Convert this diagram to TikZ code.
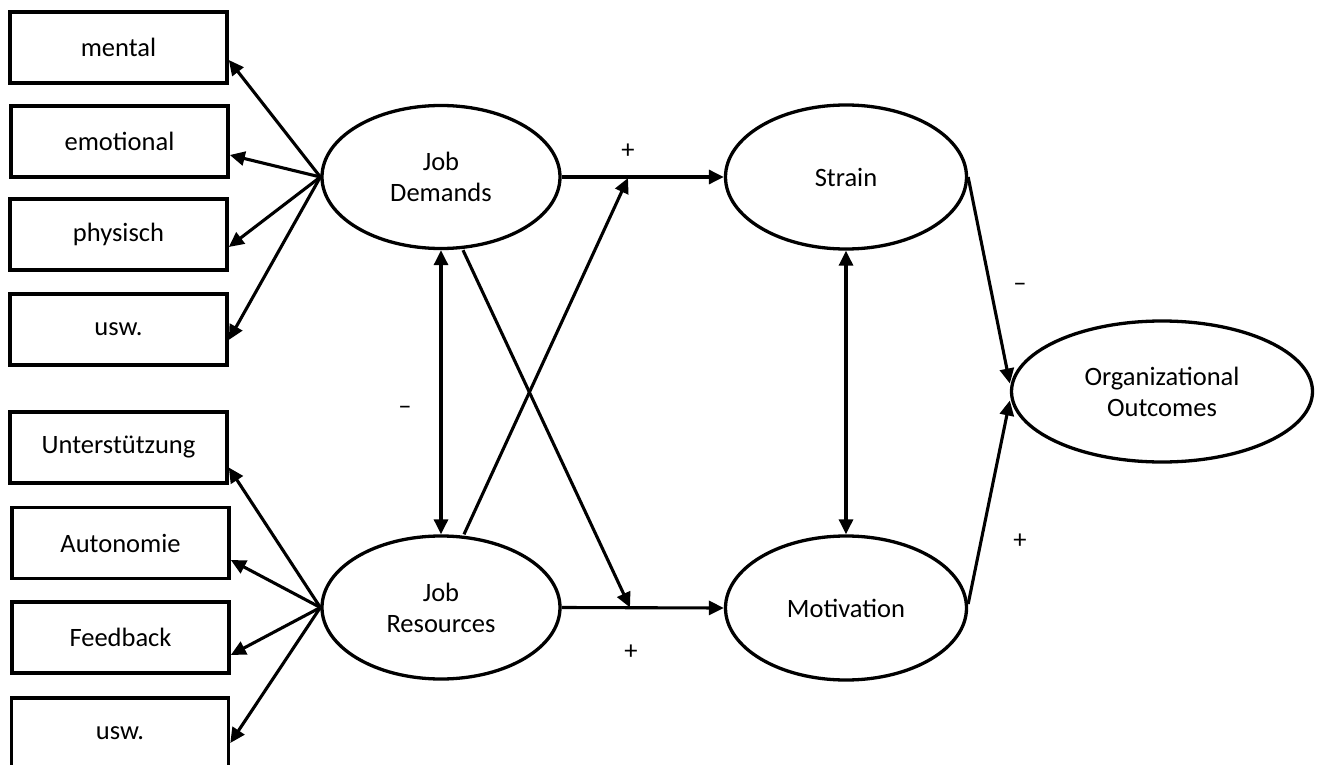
\documentclass[tikz,border=0pt]{standalone}
\usepackage{fontspec}
\setmainfont{Carlito}
\usetikzlibrary{shapes.geometric,arrows.meta}
\begin{document}
\begin{tikzpicture}[x=1pt,y=-1pt,
  box/.style={draw,line width=3.6pt,minimum width=217pt,minimum height=71pt,inner sep=0pt},
  oval/.style={draw,ellipse,line width=3.3pt,minimum width=238pt,minimum height=143pt,inner sep=0pt,align=center},
  conn/.style={line width=3.1pt,-{Triangle[length=15pt,width=14pt]}},
  both/.style={line width=3.1pt,{Triangle[length=15pt,width=14pt]}-{Triangle[length=15pt,width=14pt]}},
  sign/.style={inner sep=0pt},
  font=\fontsize{26.5}{31}\selectfont]

\useasboundingbox (0,0) rectangle (1318,765);

% left boxes
\node[box] (mental) at (118.5,47.5) {mental};
\node[box] (emo) at (119.5,141.5) {emotional};
\node[box] (phys) at (118.5,234.5) {physisch};
\node[box] (usw1) at (118.5,329.5) {usw.};
\node[box] (unter) at (118.5,447.5) {Unterstützung};
\node[box] (auto) at (120.5,543) {Autonomie};
\node[box] (feed) at (120.5,637.5) {Feedback};
\node[box] (usw2) at (120,733.5) {usw.};

% ellipses
\node[oval] (JD) at (441,177) {Job\\Demands};
\node[oval] (JR) at (441,607.5) {Job\\Resources};
\node[oval,minimum width=241pt,minimum height=144pt] (ST) at (846,177) {Strain};
\node[oval,minimum width=241pt,minimum height=144pt] (MO) at (846,608) {Motivation};
\node[oval,minimum width=301pt,minimum height=141pt] (OO) at (1162,391.5) {Organizational\\Outcomes};

% left fan arrows
\draw[conn] (JD.west) -- ([yshift=-12.5pt]mental.east);
\draw[conn] (JD.west) -- ([yshift=-13.5pt]emo.east);
\draw[conn] (JD.west) -- ([yshift=-12.5pt]phys.east);
\draw[conn] (JD.west) -- ([yshift=-10.5pt]usw1.east);
\draw[conn] (JR.west) -- ([yshift=-20pt]unter.east);
\draw[conn] (JR.west) -- ([yshift=-17pt]auto.east);
\draw[conn] (JR.west) -- ([yshift=-17.5pt]feed.east);
\draw[conn] (JR.west) -- ([yshift=-9.5pt]usw2.east);

% horizontal paths
\draw[conn] (JD.east) -- (ST.west);
\draw[conn] (JR.east) -- (MO.west);

% crossing arrows
\coordinate (p1) at (628,178);
\coordinate (p2) at (630,607.5);
\draw[conn] ([xshift=23pt]JR.north) -- (p1);
\draw[conn] ([xshift=22pt]JD.south) -- (p2);

% vertical double arrows
\draw[both] (JD.south) -- (JR.north);
\draw[both] (ST.south) -- (MO.north);

% to outcomes
\draw[conn] (ST.east) -- ([yshift=8pt]OO.west);
\draw[conn] ([yshift=4pt]MO.east) -- ([yshift=-9pt]OO.west);

% signs
\node[sign] (s1) at (628,151) {+};
\node[sign] (s2) at (631,652) {+};
\node[sign] (s3) at (1020,541) {+};
\node[sign] (s4) at (405,410) {--};
\node[sign] (s5) at (1020,287) {--};
\end{tikzpicture}
\end{document}
